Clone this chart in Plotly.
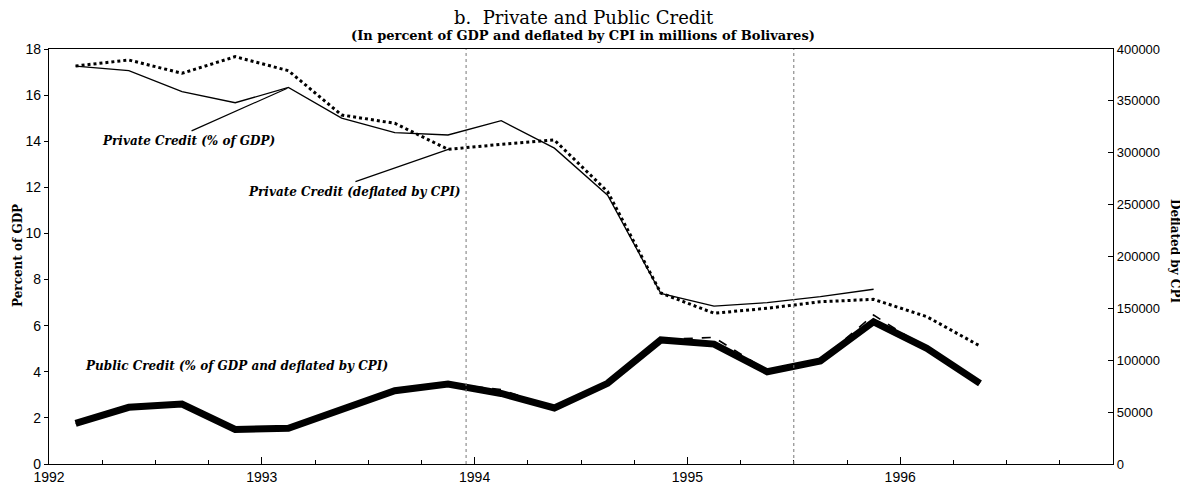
import plotly.graph_objects as go

# ---- data ----
quarters = [1992.125, 1992.375, 1992.625, 1992.875, 1993.125, 1993.375, 1993.625, 1993.875,
            1994.125, 1994.375, 1994.625, 1994.875, 1995.125, 1995.375, 1995.625, 1995.875,
            1996.125, 1996.375]

private_gdp = [17.26, 17.06, 16.15, 15.67, 16.33, 15.0, 14.37, 14.27,
               14.89, 13.70, 11.66, 7.4, 6.85, 7.0, 7.26, 7.58]

private_cpi = [383600, 389400, 376600, 392600, 379100, 336400, 328400, 303300,
               308100, 312300, 262500, 164800, 145300, 150100, 156400, 158700,
               142000, 113700]

public_gdp = [1.76, 2.46, 2.60, 1.50, 1.55, 2.34, 3.18, 3.47,
              3.06, 2.43, 3.5, 5.38, 5.20, 4.0, 4.47, 6.17, 5.02, 3.5]

public_cpi = [39100, 54700, 57800, 33300, 34400, 52000, 70700, 77600,
              71800, 54000, 78000, 120000, 122000, 90000, 100000, 143600,
              111100, 77800]

year_ticks = [1992, 1993, 1994, 1995, 1996]
year_labels = ["1992", "1993", "1994", "1995", "1996"]
marker_dates = [1993.96, 1995.5]

serif = "DejaVu Serif"
sans = "Liberation Sans"

# page body has an 8px margin: size the figure so it fills the 1188x486 window
OFF = 8
W, H = 1188 - OFF, 486 - OFF
plot_l, plot_r, plot_t, plot_b = 49 - OFF, 1113 - OFF, 49 - OFF, 464 - OFF


def px(x):
    return (x - OFF - plot_l) / (plot_r - plot_l)


def py(y):
    return (plot_b - (y - OFF)) / (plot_b - plot_t)


fig = go.Figure()

fig.add_trace(go.Scatter(x=quarters, y=public_gdp, mode="lines", yaxis="y",
                         line=dict(color="black", width=7), name="Public % GDP"))
fig.add_trace(go.Scatter(x=quarters, y=public_cpi, mode="lines", yaxis="y2",
                         line=dict(color="black", width=1.6, dash="dash"), name="Public CPI"))
fig.add_trace(go.Scatter(x=quarters[:len(private_gdp)], y=private_gdp, mode="lines", yaxis="y",
                         line=dict(color="black", width=1.3), name="Private % GDP"))
fig.add_trace(go.Scatter(x=quarters, y=private_cpi, mode="lines", yaxis="y2",
                         line=dict(color="black", width=3, dash="dot"), name="Private CPI"))

shapes = []
for d in marker_dates:
    shapes.append(dict(type="line", xref="x", yref="paper", x0=d, x1=d, y0=0, y1=1,
                       line=dict(color="#777", width=1, dash="dot")))
# leader lines for labels
shapes.append(dict(type="line", xref="x", yref="y", x0=1992.67, y0=14.45, x1=1993.12, y1=16.3,
                   line=dict(color="black", width=1.2)))
shapes.append(dict(type="line", xref="x", yref="y", x0=1993.44, y0=12.25, x1=1993.88, y1=13.66,
                   line=dict(color="black", width=1.2)))

lab_font = dict(family=serif, size=12, color="black")
annotations = [
    dict(text="<b><i>Private Credit (% of GDP)</i></b>", x=1992.24, y=14.0, xref="x", yref="y",
         xanchor="left", yanchor="middle", showarrow=False, font=lab_font),
    dict(text="<b><i>Private Credit (deflated by CPI)</i></b>", x=1992.925, y=11.8, xref="x", yref="y",
         xanchor="left", yanchor="middle", showarrow=False, font=lab_font),
    dict(text="<b><i>Public Credit (% of GDP and deflated by CPI)</i></b>", x=1992.16, y=4.25,
         xref="x", yref="y", xanchor="left", yanchor="middle", showarrow=False, font=lab_font),
    dict(text="b.  Private and Public Credit", x=px(584), y=py(17), xref="paper", yref="paper",
         xanchor="center", yanchor="middle", showarrow=False,
         font=dict(family=serif, size=18, color="black")),
    dict(text="<b>(In percent of GDP and deflated by CPI in millions of Bolivares)</b>",
         x=px(583), y=py(35), xref="paper", yref="paper", xanchor="center", yanchor="middle",
         showarrow=False, font=dict(family=serif, size=13, color="black")),
    dict(text="<b>Percent of GDP</b>", x=px(18), y=py(256), xref="paper", yref="paper",
         textangle=-90, xanchor="center", yanchor="middle", showarrow=False,
         font=dict(family=serif, size=12, color="black")),
    dict(text="<b>Deflated by CPI</b>", x=px(1175), y=py(251), xref="paper", yref="paper",
         textangle=90, xanchor="center", yanchor="middle", showarrow=False,
         font=dict(family=serif, size=12, color="black")),
]

fig.update_layout(
    width=W, height=H,
    margin=dict(l=plot_l, r=W - plot_r, t=plot_t, b=H - plot_b, autoexpand=False),
    plot_bgcolor="white", paper_bgcolor="white",
    showlegend=False,
    shapes=shapes, annotations=annotations,
    xaxis=dict(range=[1992, 1997], tickvals=year_ticks, ticktext=year_labels,
               ticks="inside", ticklen=7, tickcolor="black", showline=True, linecolor="black",
               linewidth=1.2, mirror=True, showgrid=False, zeroline=False, automargin=False,
               minor=dict(dtick=0.25, tick0=1992, ticks="inside", ticklen=4, tickcolor="black"),
               tickfont=dict(family=sans, size=14, color="black")),
    yaxis=dict(range=[0, 18], dtick=2, ticks="outside", ticklen=4, tickcolor="black",
               showline=True, linecolor="black", linewidth=1.2, showgrid=False, zeroline=False,
               automargin=False, tickfont=dict(family=sans, size=14, color="black")),
    yaxis2=dict(range=[0, 400000], dtick=50000, overlaying="y", side="right", ticks="inside",
                ticklen=5, tickcolor="black", showline=True, linecolor="black", linewidth=1.2,
                showgrid=False, zeroline=False, tickformat="d", automargin=False,
                tickfont=dict(family=sans, size=13, color="black")),
)

fig.write_html("out.html")
